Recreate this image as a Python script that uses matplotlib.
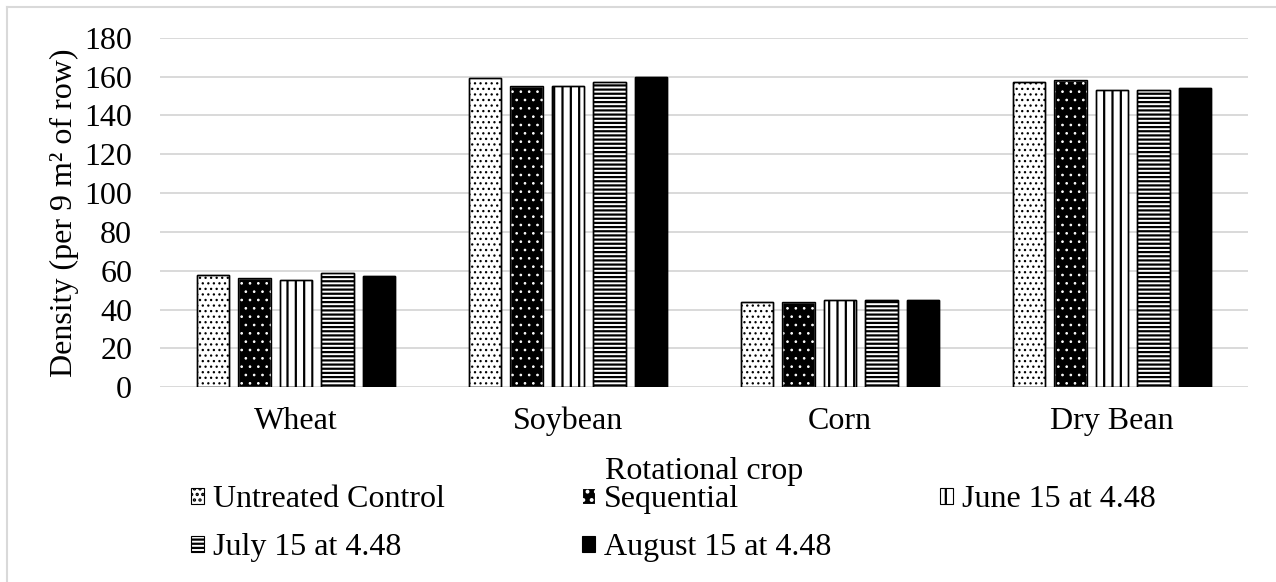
import matplotlib
matplotlib.use("Agg")
import matplotlib.pyplot as plt
import numpy as np
from matplotlib.patches import Patch
from matplotlib.lines import Line2D

# ---- data ----
crops = ["Wheat", "Soybean", "Corn", "Dry Bean"]
series_names = ["Untreated Control", "Sequential", "June 15 at 4.48",
                "July 15 at 4.48", "August 15 at 4.48"]
untreated = [58, 159, 44, 157]
sequential = [56.5, 155, 44, 158]
june15 = [55.5, 155, 45, 153]
july15 = [59, 157, 45, 153]
august15 = [57.5, 160, 45, 154]
yticks = [0, 20, 40, 60, 80, 100, 120, 140, 160, 180]

W, H = 1276, 582
FS = 23
plt.rcParams['font.family'] = ['Liberation Serif', 'DejaVu Serif']
plt.rcParams['hatch.linewidth'] = 1.6

fig = plt.figure(figsize=(W / 100, H / 100), dpi=100)
ax = fig.add_axes([160 / W, 1 - 387.3 / H, 1088 / W, 349.6 / H])

values = [untreated, sequential, june15, july15, august15]
styles = [
    dict(facecolor="white", edgecolor="black", hatch="..."),
    dict(facecolor="black", edgecolor="white", hatch=".."),
    dict(facecolor="white", edgecolor="black", hatch="||"),
    dict(facecolor="white", edgecolor="black", hatch="----"),
    dict(facecolor="black", edgecolor="black", hatch=None),
]
hatch_lw = [0.9, 0.7, 1.6, 1.6, 1.6]
x = np.arange(len(crops))
step = 0.1526
width = 0.121
handles = []
for i, (vals, st) in enumerate(zip(values, styles)):
    pos = x + (i - 2) * step
    with plt.rc_context({'hatch.linewidth': hatch_lw[i]}):
        bars = ax.bar(pos, vals, width, linewidth=1.0, zorder=3, **st)
        for b in bars:
            if hasattr(b, "set_hatch_linewidth"):
                b.set_hatch_linewidth(hatch_lw[i])
        h = Patch(**st, linewidth=0.8, label=series_names[i])
        if hasattr(h, "set_hatch_linewidth"):
            h.set_hatch_linewidth(hatch_lw[i])
    handles.append(h)
    # black outline on top
    ax.bar(pos, vals, width, facecolor="none", edgecolor="black",
           linewidth=1.0, zorder=4)

ax.set_xlim(-0.5, len(crops) - 0.5)
ax.set_ylim(0, 180)
ax.set_yticks(yticks)
ax.set_xticks(x)
ax.set_xticklabels(crops, fontsize=FS)
ax.tick_params(axis="y", length=0, pad=20, labelsize=FS)
ax.tick_params(axis="x", length=0, pad=14, labelsize=FS)
ax.grid(axis="y", color="#d9d9d9", linewidth=1.4, zorder=0)
ax.set_axisbelow(True)
for s in ax.spines.values():
    s.set_visible(False)

ax.text(0.5, (387.3 - 479) / 349.6, "Rotational crop", transform=ax.transAxes,
        ha="center", va="baseline", fontsize=FS)
fig.text(72 / W, 1 - 212.5 / H, "Density (per 9 m² of row)", rotation=90,
         rotation_mode="anchor", ha="center", va="baseline", fontsize=FS)

# legend: three columns placed like the reference
cols = [([handles[0], handles[3]], 191), ([handles[1], handles[4]], 582),
        ([handles[2]], 940)]
for hs, xl in cols:
    fig.legend(handles=hs, loc="upper left",
               bbox_to_anchor=(xl / W, 1 - 485 / H), frameon=False,
               fontsize=FS, borderpad=0, borderaxespad=0,
               handlelength=0.4, handleheight=0.4, handletextpad=0.3,
               labelspacing=0.6)

# figure border (top and left visible)
fig.add_artist(Line2D([7 / W, 7 / W], [0, 1 - 7 / H], color="#d9d9d9",
                      linewidth=1.5, transform=fig.transFigure))
fig.add_artist(Line2D([7 / W, 1], [1 - 7 / H, 1 - 7 / H], color="#d9d9d9",
                      linewidth=1.5, transform=fig.transFigure))

fig.savefig("out.png", dpi=100)
